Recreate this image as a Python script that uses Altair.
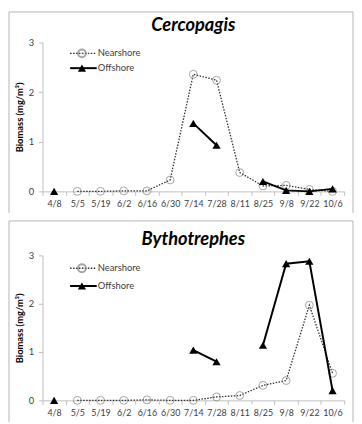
import altair as alt
import pandas as pd

dates = ["4/8", "5/5", "5/19", "6/2", "6/16", "6/30", "7/14", "7/28", "8/11", "8/25", "9/8", "9/22", "10/6"]

cerc_near = [None, 0, 0, 0.01, 0.01, 0.23, 2.36, 2.24, 0.38, 0.11, 0.12, 0.04, 0.0]
cerc_off = [0, None, None, None, None, None, 1.37, 0.93, None, 0.2, 0.02, 0.0, 0.05]
byth_near = [None, 0, 0, 0, 0.01, 0, 0, 0.07, 0.1, 0.31, 0.41, 1.97, 0.56]
byth_off = [0, None, None, None, None, None, 1.04, 0.8, None, 1.14, 2.83, 2.88, 0.2]

series_names = ["Nearshore", "Offshore"]
y_ticks = [0, 1, 2, 3]

FONT = "Lato"
W = 306


def to_df(vals):
    rows, seg, gap = [], 0, True
    for d, v in zip(dates, vals):
        if v is None:
            gap = True
            continue
        if gap:
            seg += 1
            gap = False
        rows.append({"date": d, "value": v, "seg": seg})
    return pd.DataFrame(rows)


def panel(title, near, off, h, leg_y, frame_top, title_y):
    x = alt.X("date:N", sort=dates, bandPosition=0.5,
              scale=alt.Scale(type="band", paddingInner=0, paddingOuter=0),
              axis=alt.Axis(title=None, labelAngle=0, tickBand="extent", tickSize=4,
                            domainColor="#bfbfbf", tickColor="#bfbfbf", labelColor="#404040",
                            labelFont=FONT, labelFontSize=9, labelPadding=4, grid=False))
    y = alt.Y("value:Q", scale=alt.Scale(domain=[0, 3]),
              axis=alt.Axis(title="Biomass (mg/m³)", values=y_ticks, tickSize=4, grid=False,
                            domainColor="#bfbfbf", tickColor="#bfbfbf", labelColor="#404040",
                            labelFont=FONT, labelFontSize=9.5, labelPadding=5,
                            titleFont=FONT, titleFontSize=9.5, titleFontWeight="bold",
                            titleColor="#000000", titlePadding=4))
    dn, do = to_df(near), to_df(off)
    near_line = alt.Chart(dn).mark_line(color="#303030", strokeWidth=1.3, strokeDash=[1.5, 1.5]).encode(
        x=x, y=y, detail="seg:N")
    near_pts = alt.Chart(dn).mark_point(shape="circle", size=64, filled=False, color="#7f7f7f",
                                        strokeWidth=1).encode(x=x, y=y)
    off_line = alt.Chart(do).mark_line(color="#000000", strokeWidth=2).encode(x=x, y=y, detail="seg:N")
    off_pts = alt.Chart(do).mark_point(shape="triangle-up", size=70, filled=True, color="#000000",
                                       opacity=1).encode(x=x, y=y)

    one = alt.Data(values=[{"a": 1}])
    bottom = h + 22
    frame_col = "#b4b4b4"
    frames = [
        alt.Chart(one).mark_rule(color=frame_col, strokeWidth=1).encode(
            x=alt.value(-34), x2=alt.value(315), y=alt.value(frame_top)),
        alt.Chart(one).mark_rule(color=frame_col, strokeWidth=1).encode(
            x=alt.value(-34), y=alt.value(frame_top), y2=alt.value(bottom)),
        alt.Chart(one).mark_rule(color=frame_col, strokeWidth=1).encode(
            x=alt.value(315), y=alt.value(frame_top), y2=alt.value(bottom)),
    ]
    ttl = alt.Chart(one).mark_text(font=FONT, fontSize=18.5, fontStyle="italic", fontWeight="bold",
                                   color="#000000", align="center", baseline="middle").encode(
        x=alt.value(W / 2), y=alt.value(title_y), text=alt.value(title))

    leg = []
    for i, name in enumerate(series_names):
        ly = leg_y[i]
        ld = alt.Data(values=[{"label": name}])
        if name == "Nearshore":
            leg.append(alt.Chart(ld).mark_rule(color="#303030", strokeWidth=1.3, strokeDash=[1.5, 1.5]).encode(
                x=alt.value(28), x2=alt.value(55), y=alt.value(ly)))
            leg.append(alt.Chart(ld).mark_point(shape="circle", size=64, filled=False, color="#7f7f7f").encode(
                x=alt.value(40), y=alt.value(ly)))
        else:
            leg.append(alt.Chart(ld).mark_rule(color="#000000", strokeWidth=2).encode(
                x=alt.value(28), x2=alt.value(55), y=alt.value(ly)))
            leg.append(alt.Chart(ld).mark_point(shape="triangle-up", size=70, filled=True, color="#000000",
                                                opacity=1).encode(x=alt.value(40), y=alt.value(ly)))
        leg.append(alt.Chart(ld).mark_text(font=FONT, fontSize=9.5, color="#404040", align="left",
                                           baseline="middle").encode(
            x=alt.value(56), y=alt.value(ly), text="label:N"))

    return alt.layer(*frames, ttl, *leg, near_line, near_pts, off_line, off_pts).properties(width=W, height=h)


top = panel("Cercopagis", cerc_near, cerc_off, 151, [11, 26], -31, -18)
bot = panel("Bythotrephes", byth_near, byth_off, 147, [13, 31], -35, -17)

chart = alt.vconcat(top, bot, spacing=6).properties(padding=0).configure_view(strokeWidth=0)
chart.save("out.html", embed_options={"renderer": "svg", "actions": False})
